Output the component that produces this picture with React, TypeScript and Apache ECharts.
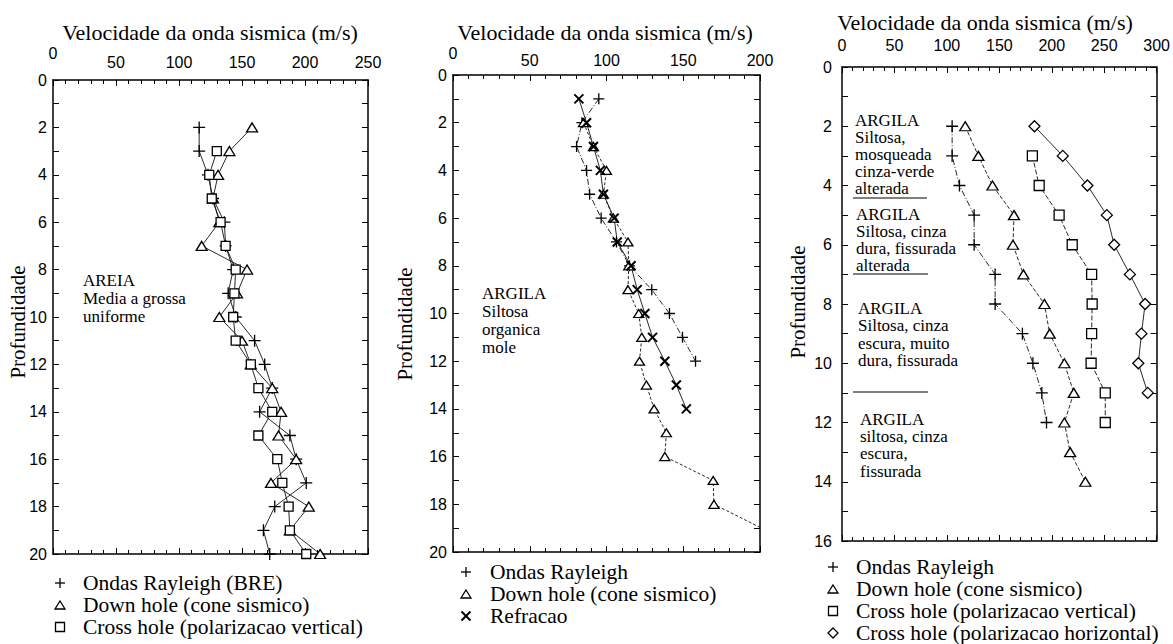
import React, { useEffect, useRef } from 'react';
import * as echarts from 'echarts';

const SERIF = '"Liberation Serif", "Times New Roman", serif';
const SANS = '"Liberation Sans", Arial, sans-serif';

const PLUS = 'path://M5,0L5,10M0,5L10,5';
const CROSS = 'path://M0,0L10,10M10,0L0,10';

// ---------- Panel 1 : AREIA ----------
const p1RayDepth = [2, 3, 4, 5, 6, 7, 8, 9, 10, 11, 12, 13, 14, 15, 16, 17, 18, 19, 20];
const p1Rayleigh = [116, 116, 123, 127, 136, 137, 143, 139, 145, 160, 168, 174, 164, 188, 193, 201, 176, 167, 172];
const p1DownDepth = [2, 3, 4, 5, 6, 7, 8, 9, 10, 11, 12, 13, 14, 15, 16, 17, 18, 19, 20];
const p1Down = [158, 140, 131, 127, 132, 118, 154, 146, 132, 150, 157, 174, 181, 179, 193, 173, 203, 188, 212];
const p1CrossDepth = [3, 4, 5, 6, 7, 8, 9, 10, 11, 12, 13, 14, 15, 16, 17, 18, 19, 20];
const p1Cross = [130, 124, 126, 133, 137, 145, 144, 143, 145, 157, 163, 174, 163, 178, 182, 187, 188, 201];

// ---------- Panel 2 : ARGILA organica ----------
const p2RayDepth = [1, 2, 3, 4, 5, 6, 7, 8, 9, 10, 11, 12];
const p2Rayleigh = [95, 84, 80.5, 87, 89, 96.5, 106.5, 115, 129.5, 141, 149.5, 158];
const p2DownDepth = [2, 3, 4, 5, 6, 7, 8, 9, 10, 11, 12, 13, 14, 15, 16, 17, 18, 19];
const p2Down = [85, 91.5, 100, 98, 104.5, 114, 114.5, 114, 121, 123, 121.5, 126, 131, 139, 138, 169.5, 170, 201];
const p2RefDepth = [1, 2, 3, 4, 5, 6, 7, 8, 9, 10, 11, 12, 13, 14];
const p2Refracao = [82, 87, 91.5, 96, 98, 105, 107, 116, 120, 125, 130, 138, 145.5, 152];

// ---------- Panel 3 : ARGILA siltosa ----------
const p3RayDepth = [2, 3, 4, 5, 6, 7, 8, 9, 10, 11, 12];
const p3Rayleigh = [105, 105, 112, 126, 126, 146, 146, 172, 182, 190.5, 195];
const p3DownDepth = [2, 3, 4, 5, 6, 7, 8, 9, 10, 11, 12, 13, 14];
const p3Down = [117.5, 130, 143.5, 164, 163, 173, 193, 198, 212, 221, 212, 217.5, 232];
const p3CrossVDepth = [3, 4, 5, 6, 7, 8, 9, 10, 11, 12];
const p3CrossV = [181.5, 188, 207, 219.5, 238, 238.5, 238, 237.5, 251, 251];
const p3CrossHDepth = [2, 3, 4, 5, 6, 7, 8, 9, 10, 11];
const p3CrossH = [183.5, 210.5, 234, 252.5, 259.5, 274.5, 289, 285.5, 282.5, 291.5];

// axis ranges
const xMax = [250, 200, 300];
const yMax = [20, 20, 16];

const titleText = 'Velocidade da onda sismica (m/s)';
const yName = 'Profundidade';

// legend entries
const p1Legend = ['Ondas Rayleigh (BRE)', 'Down hole (cone sismico)', 'Cross hole (polarizacao vertical)'];
const p2Legend = ['Ondas Rayleigh', 'Down hole (cone sismico)', 'Refracao'];
const p3Legend = ['Ondas Rayleigh', 'Down hole (cone sismico)', 'Cross hole (polarizacao vertical)', 'Cross hole (polarizacao horizontal)'];

const p1Notes = ['AREIA', 'Media a grossa', 'uniforme'];
const p2Notes = ['ARGILA', 'Siltosa', 'organica', 'mole'];
const p3Notes = [
  ['ARGILA', 'Siltosa,', 'mosqueada', 'cinza-verde', 'alterada'],
  ['ARGILA', 'Siltosa, cinza', 'dura, fissurada', 'alterada'],
  ['ARGILA', 'Siltosa, cinza', 'escura, muito', 'dura, fissurada'],
  ['ARGILA', 'siltosa, cinza', 'escura,', 'fissurada'],
];

const zip = (xs: number[], ds: number[]) => xs.map((v, i) => [v, ds[i]]);

function ser(name: string, xs: number[], ds: number[], axis: number, symbol: string, size: any, dash: any, bw = 1.2) {
  return {
    name,
    type: 'line',
    xAxisIndex: axis * 2,
    yAxisIndex: axis * 2,
    data: zip(xs, ds),
    symbol,
    symbolSize: size,
    showAllSymbol: true,
    lineStyle: { color: '#111', width: 0.9, type: dash },
    itemStyle: { color: '#fff', borderColor: '#000', borderWidth: bw },
    emphasis: { disabled: true },
    silent: true,
    z: 3,
  };
}

function xAxes(g: number, margin: number, raise: number) {
  const common = {
    type: 'value',
    gridIndex: g,
    min: 0,
    max: xMax[g],
    interval: 50,
    axisLine: { show: true, onZero: false, lineStyle: { color: '#000', width: 1.5 } },
    axisTick: { show: true, inside: true, length: 6, lineStyle: { color: '#000', width: 1 } },
    minorTick: { show: true, splitNumber: 5, length: 4, lineStyle: { color: '#000', width: 1 } },
    splitLine: { show: false },
    minorSplitLine: { show: false },
  };
  return [
    {
      ...common,
      position: 'top',
      axisLabel: {
        show: true,
        margin,
        color: '#000',
        fontFamily: SANS,
        fontSize: 16,
        formatter: (v: number) => (v === 0 && raise > 0 ? '{z|0}' : String(v)),
        rich: { z: { padding: [0, 0, raise, 0], fontFamily: SANS, fontSize: 16, color: '#000' } },
      },
    },
    { ...common, position: 'bottom', axisLabel: { show: false } },
  ];
}

function yAxes(g: number, margin: number) {
  const common = {
    type: 'value',
    gridIndex: g,
    min: 0,
    max: yMax[g],
    interval: 2,
    inverse: true,
    axisLine: { show: true, onZero: false, lineStyle: { color: '#000', width: 1.5 } },
    axisTick: { show: true, inside: true, length: 6, lineStyle: { color: '#000', width: 1 } },
    minorTick: { show: true, splitNumber: 2, length: 6, lineStyle: { color: '#000', width: 1 } },
    splitLine: { show: false },
    minorSplitLine: { show: false },
  };
  return [
    {
      ...common,
      position: 'left',
      axisLabel: { show: true, margin, color: '#000', fontFamily: SANS, fontSize: 16 },
    },
    { ...common, position: 'right', axisLabel: { show: false } },
  ];
}

function textEl(t: string, x: number, y: number, size: number, align = 'left', rotation = 0) {
  return {
    type: 'text',
    x,
    y,
    rotation,
    silent: true,
    style: { text: t, fontFamily: SERIF, fontSize: size, fill: '#000', align, verticalAlign: 'middle' },
  };
}

function noteTexts(lines: string[], x: number, y0: number, step: number, size = 17) {
  return lines.map((t, i) => textEl(t, x, y0 + i * step, size));
}

const mk = { fill: '#fff', stroke: '#000', lineWidth: 1.3 };

function icon(kind: string, cx: number, cy: number): any {
  const s = 9;
  const h = s / 2;
  if (kind === 'plus') {
    return {
      type: 'group', silent: true, children: [
        { type: 'line', shape: { x1: cx - 5, y1: cy, x2: cx + 5, y2: cy }, style: { stroke: '#000', lineWidth: 1.3 } },
        { type: 'line', shape: { x1: cx, y1: cy - 5, x2: cx, y2: cy + 5 }, style: { stroke: '#000', lineWidth: 1.3 } },
      ],
    };
  }
  if (kind === 'cross') {
    return {
      type: 'group', silent: true, children: [
        { type: 'line', shape: { x1: cx - 4.5, y1: cy - 4.5, x2: cx + 4.5, y2: cy + 4.5 }, style: { stroke: '#000', lineWidth: 2 } },
        { type: 'line', shape: { x1: cx + 4.5, y1: cy - 4.5, x2: cx - 4.5, y2: cy + 4.5 }, style: { stroke: '#000', lineWidth: 2 } },
      ],
    };
  }
  if (kind === 'tri') {
    return { type: 'polygon', silent: true, shape: { points: [[cx, cy - 4], [cx + 5, cy + 4], [cx - 5, cy + 4]] }, style: mk };
  }
  if (kind === 'rect') {
    return { type: 'rect', silent: true, shape: { x: cx - h, y: cy - h, width: s, height: s }, style: mk };
  }
  return { type: 'polygon', silent: true, shape: { points: [[cx, cy - 5], [cx + 5, cy], [cx, cy + 5], [cx - 5, cy]] }, style: mk };
}

function legendEls(names: string[], kinds: string[], ix: number, tx: number, y0: number, step: number) {
  const out: any[] = [];
  names.forEach((n, i) => {
    const y = y0 + i * step;
    out.push(icon(kinds[i], ix, y));
    out.push(textEl(n, tx, y, 21.5));
  });
  return out;
}

export default function App() {
  const ref = useRef<HTMLDivElement>(null);
  useEffect(() => {
    if (!ref.current) return;
    const chart = echarts.init(ref.current, undefined, { renderer: 'svg' });
    const TRI = 'triangle';
    const option: any = {
      animation: false,
      backgroundColor: '#fff',
      grid: [
        { left: 53, top: 80, width: 315, height: 474 },
        { left: 453, top: 75, width: 307, height: 477 },
        { left: 842, top: 67, width: 315, height: 474 },
      ],
      xAxis: [...xAxes(0, 10, 9), ...xAxes(1, 7, 7), ...xAxes(2, 14, 0)],
      yAxis: [...yAxes(0, 6), ...yAxes(1, 6), ...yAxes(2, 10)],
      series: [
        ser(p1Legend[0], p1Rayleigh, p1RayDepth, 0, PLUS, 12, 'solid', 1.3),
        ser(p1Legend[1], p1Down, p1DownDepth, 0, TRI, [11, 9], 'solid', 1.3),
        ser(p1Legend[2], p1Cross, p1CrossDepth, 0, 'rect', 9, 'solid', 1.3),

        ser(p2Legend[0], p2Rayleigh, p2RayDepth, 1, PLUS, 11, [6, 2, 1, 2], 1.3),
        ser(p2Legend[1], p2Down, p2DownDepth, 1, TRI, [10, 8], [3, 2], 1.3),
        ser(p2Legend[2], p2Refracao, p2RefDepth, 1, CROSS, 9, 'solid', 2),

        ser(p3Legend[0], p3Rayleigh, p3RayDepth, 2, PLUS, 12, [6, 2, 1, 2], 1.3),
        ser(p3Legend[1], p3Down, p3DownDepth, 2, TRI, [11, 9], [4, 2], 1.3),
        ser(p3Legend[2], p3CrossV, p3CrossVDepth, 2, 'rect', 10, [5, 2], 1.3),
        ser(p3Legend[3], p3CrossH, p3CrossHDepth, 2, 'diamond', [11, 11], 'solid', 1.3),
      ],
      graphic: [
        // titles
        textEl(titleText, 210, 32, 22, 'center'),
        textEl(titleText, 605, 32, 22, 'center'),
        textEl(titleText, 985, 22, 22, 'center'),
        // y names
        textEl(yName, 18, 322, 21, 'center', Math.PI / 2),
        textEl(yName, 405, 324, 21, 'center', Math.PI / 2),
        textEl(yName, 798, 302, 21, 'center', Math.PI / 2),
        // annotations
        ...noteTexts(p1Notes, 83, 280, 18),
        ...noteTexts(p2Notes, 482, 293, 18),
        ...noteTexts(p3Notes[0], 855, 120, 17.2),
        ...noteTexts(p3Notes[1], 856, 214, 17),
        ...noteTexts(p3Notes[2], 858, 308, 17.6),
        ...noteTexts(p3Notes[3], 860, 419, 17.4),
        { type: 'line', silent: true, shape: { x1: 853, y1: 198, x2: 927, y2: 198 }, style: { stroke: '#000', lineWidth: 1 } },
        { type: 'line', silent: true, shape: { x1: 853, y1: 274, x2: 928, y2: 274 }, style: { stroke: '#000', lineWidth: 1 } },
        { type: 'line', silent: true, shape: { x1: 853, y1: 392, x2: 928, y2: 392 }, style: { stroke: '#000', lineWidth: 1 } },
        // legends
        ...legendEls(p1Legend, ['plus', 'tri', 'rect'], 60, 83, 583, 22),
        ...legendEls(p2Legend, ['plus', 'tri', 'cross'], 466, 490, 572, 22),
        ...legendEls(p3Legend, ['plus', 'tri', 'rect', 'diamond'], 833, 856, 567, 22),
      ],
    };
    chart.setOption(option);
    return () => chart.dispose();
  }, []);
  return (
    <div
      ref={ref}
      style={{ position: 'fixed', left: 0, top: 0, width: 1173, height: 644, background: '#fff' }}
    />
  );
}
